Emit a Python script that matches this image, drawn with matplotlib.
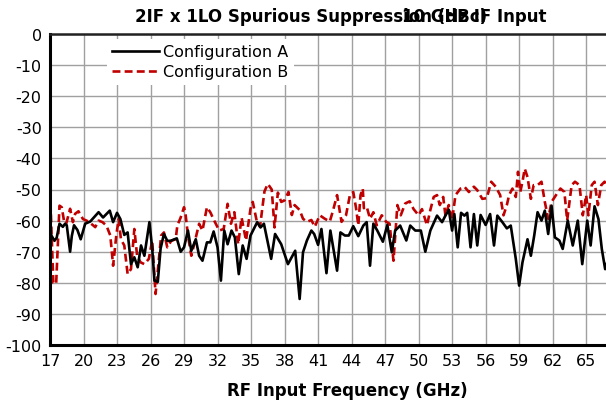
import matplotlib
matplotlib.use("Agg")
import matplotlib.pyplot as plt
from matplotlib.lines import Line2D

plt.rcParams['font.family'] = ['DejaVu Sans']
plt.rcParams['axes.unicode_minus'] = False

title_main = "2IF x 1LO Spurious Suppression (dBc)"
title_sub = "10 GHz IF Input"
x_label = "RF Input Frequency (GHz)"
series_names = ["Configuration A", "Configuration B"]
x_ticks = list(range(17, 66, 3))
y_ticks = list(range(-100, 1, 10))

freq_a = [17.0, 17.4, 17.6, 17.85, 18.15, 18.35, 18.5, 18.8, 18.95, 19.15, 19.45, 19.75, 20.15, 20.6,
          21.35, 21.75, 22.35, 22.65, 23.0, 23.3, 23.65, 23.95, 24.25, 24.55, 24.85, 25.15, 25.45, 25.9,
          26.15, 26.35, 26.65, 26.9, 27.2, 27.5, 27.8, 28.35, 28.7, 29.0, 29.35, 29.65, 30.05, 30.35,
          30.65, 31.05, 31.35, 31.65, 32.0, 32.3, 32.6, 32.9, 33.25, 33.55, 33.9, 34.25, 34.6, 34.95,
          35.55, 35.85, 36.15, 36.8, 37.15, 37.7, 38.3, 38.95, 39.35, 39.65, 40.0, 40.4, 40.65, 41.0,
          41.3, 41.75, 42.1, 42.7, 43.0, 43.4, 43.75, 44.15, 44.6, 45.05, 45.35, 45.65, 45.95, 46.3,
          46.8, 47.2, 47.6, 47.9, 48.35, 48.9, 49.25, 49.7, 50.2, 50.6, 51.05, 51.65, 52.1, 52.4, 52.7,
          53.0, 53.2, 53.5, 53.8, 54.1, 54.35, 54.65, 54.95, 55.25, 55.55, 56.0, 56.4, 56.75, 57.05,
          57.5, 57.9, 58.25, 58.7, 59.0, 59.3, 59.75, 60.05, 60.35, 60.65, 61.0, 61.3, 61.6, 61.9, 62.2,
          62.6, 62.9, 63.35, 63.8, 64.25, 64.65, 65.1, 65.4, 65.75, 66.1, 66.4, 66.7, 67.0]
val_a = [-64, -66.5, -65.5, -61, -62, -61, -61.5, -70, -65, -61.5, -63, -66, -61, -60.3,
         -57.3, -59, -56.8, -60.5, -57.5, -59.5, -64.6, -63.8, -74, -71.8, -75, -68, -71.3, -60.5,
         -69, -79.3, -79.7, -69, -64.3, -66.5, -66.5, -65.7, -70, -68.6, -63.2, -69.7, -66, -71.3,
         -72.9, -67, -67, -63.5, -68.6, -79.3, -63.2, -67.6, -63.2, -65.4, -77.2, -68, -72.3, -64.8,
         -60.5, -62.2, -61, -72.3, -64.3, -67.6, -74, -69.7, -85.2, -70.2, -66.4, -63.2, -64.3, -67.8,
         -62.7, -76.9, -63.2, -76.1, -63.8, -64.8, -64.8, -61.8, -65, -61.6, -60.5, -74.5, -61, -63.2,
         -66.8, -61.4, -70.2, -63.2, -61.6, -66.4, -61.6, -63.2, -63.2, -70, -63.2, -58.4, -60.5, -58.4, -56.5,
         -63.2, -57.9, -68.6, -57.5, -58.4, -57.5, -68.6, -57.9, -68, -58.2, -61.4, -57.9, -68, -58.4,
         -60.5, -62.5, -61.6, -72.3, -80.9, -73.4, -66, -71.3, -64.8, -57.3, -60, -56.8, -64.3, -55.2, -65.4,
         -66.4, -69.1, -60, -68, -60, -74, -60, -68, -55.4, -59.5, -69.1, -75.6, -72]

freq_b = [17.0, 17.3, 17.55, 17.85, 18.05, 18.25, 18.45, 18.8, 19.05, 19.25, 19.55, 19.95, 20.45, 21.05,
          21.35, 21.7, 22.05, 22.4, 22.65, 22.95, 23.15, 23.35, 23.65, 23.95, 24.25, 24.55, 24.8, 25.1,
          25.45, 25.85, 26.15, 26.45, 26.75, 26.95, 27.2, 27.5, 27.85, 28.25, 28.4, 28.7, 29.0, 29.15,
          29.35, 29.65, 29.95, 30.35, 30.65, 31.05, 31.35, 31.7, 32.15, 32.55, 32.9, 33.2, 33.5, 33.85,
          34.15, 34.55, 34.95, 35.15, 35.5, 35.8, 36.2, 36.5, 36.85, 37.1, 37.4, 37.7, 38.0, 38.35,
          38.65, 38.9, 39.35, 39.65, 40.0, 40.4, 40.7, 41.15, 41.6, 42.05, 42.35, 42.7, 43.1, 43.5,
          43.85, 44.15, 44.4, 44.6, 44.8, 45.0, 45.1, 45.35, 45.65, 45.95, 46.25, 46.7, 47.1, 47.4,
          47.75, 48.1, 48.4, 48.8, 49.2, 49.55, 50.0, 50.3, 50.75, 51.05, 51.35, 51.65, 51.9, 52.2,
          52.4, 52.7, 53.0, 53.3, 53.75, 54.1, 54.5, 54.95, 55.25, 55.7, 56.1, 56.5, 56.9, 57.3, 57.6,
          57.9, 58.1, 58.4, 58.7, 58.9, 59.1, 59.3, 59.5, 59.75, 60.05, 60.3, 60.65, 61.0, 61.3, 61.6,
          61.9, 62.3, 62.7, 63.05, 63.3, 63.7, 64.0, 64.4, 64.7, 65.0, 65.2, 65.5, 65.75, 66.05, 66.35,
          66.65, 67.0]
val_b = [-50.2, -80, -80.4, -55.2, -55.7, -60, -61, -56.2, -60.5, -57.8, -57, -59.5, -60.3, -62.1,
         -60, -60.5, -61.6, -64.8, -74.5, -64.3, -59.5, -66, -68, -77.2, -75.6, -62.7, -71.3, -73.4,
         -74, -72.3, -66.4, -83.6, -72.3, -64.8, -63.8, -68.6, -66.5, -66, -61.6, -59, -55.7, -58.4,
         -64.8, -71.3, -67, -61, -63.2, -55.7, -57.3, -60, -63.2, -62.7, -54.6, -61, -57.3, -67.6,
         -59, -66.4, -56.2, -54, -60, -62, -50.6, -48.2, -50, -62.2, -51, -54, -53.5, -50.8,
         -58.2, -55, -56.6, -59.4, -60.4, -59.8, -62, -58.3, -59.4, -60.3, -56.6, -51.8, -60.4, -58.3,
         -51.8, -50.8, -56, -61.5, -51.8, -49.7, -56, -55.5, -59.4, -57.3, -61.5, -58.3, -60.4, -61,
         -72.9, -55, -58.3, -54.5, -53.8, -56.3, -58.3, -56.3, -61.5, -56.6, -52.4, -51.8, -55, -52.4,
         -58.3, -55, -59.9, -51.8, -49.7, -49.1, -50.8, -49.1, -50.2, -53, -52.8, -47.5, -49.1, -51.8, -58.3,
         -55, -51.8, -49.7, -52.4, -44.3, -50.8, -47.5, -43.3, -46, -53, -48.6, -48.6, -47.5, -54, -59.4,
         -54, -51.8, -49.7, -50.8, -59.9, -48.6, -47.5, -48.6, -58.3, -51.8, -58.3, -48.6, -47.5, -55, -48.6,
         -47.5, -50]

fig = plt.figure(figsize=(6.06, 4.02), dpi=100)
ax = fig.add_axes([50/606, 56/402, 558.5/606, 311/402])

ax.plot(freq_a, val_a, color='black', lw=1.9, solid_joinstyle='round', zorder=3)
ax.plot(freq_b, val_b, color='#c00000', lw=1.9, dashes=(3.0, 1.6), zorder=2)

ax.set_xlim(17, 67)
ax.set_ylim(-100, 0)
ax.set_xticks(x_ticks)
ax.set_yticks(y_ticks)
ax.tick_params(length=0, labelsize=11.5, pad=6)
ax.grid(True, color='#a0a0a0', lw=1.0, zorder=0)
ax.set_axisbelow(True)
for s in ['left', 'bottom']:
    ax.spines[s].set_linewidth(2.2)
    ax.spines[s].set_color('black')
ax.spines['top'].set_linewidth(1.8)
ax.spines['top'].set_color('#222222')
ax.spines['right'].set_visible(False)

handles = [Line2D([], [], color='black', lw=1.9),
           Line2D([], [], color='#c00000', lw=1.9, dashes=(3.0, 1.6))]
leg = ax.legend(handles, series_names, loc='upper left', bbox_to_anchor=(0.093, 1.0),
                frameon=True, fontsize=11.5, handlelength=2.9, handletextpad=0.3,
                labelspacing=0.3, borderpad=0.35, borderaxespad=0.3)
leg.get_frame().set_edgecolor('none')
leg.get_frame().set_facecolor('white')
leg.get_frame().set_alpha(1.0)

fig.text(135/606, 1 - 17/402, title_main, fontsize=12, fontweight='bold', ha='left', va='center')
fig.text(547/606, 1 - 17/402, title_sub, fontsize=12, fontweight='bold', ha='right', va='center')
fig.text(347/606, 1 - 391/402, x_label, fontsize=12, fontweight='bold', ha='center', va='center')

fig.savefig('out.png', dpi=100)
